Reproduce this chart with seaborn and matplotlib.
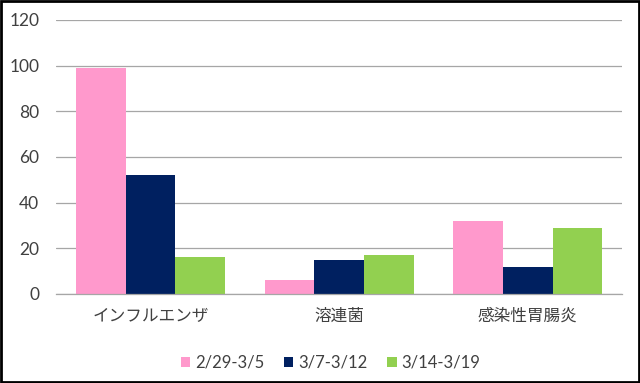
import matplotlib.pyplot as plt
import seaborn as sns
import pandas as pd
from matplotlib.patches import Rectangle

# data
categories = ["インフルエンザ", "溶連菌", "感染性胃腸炎"]
periods = ["2/29-3/5", "3/7-3/12", "3/14-3/19"]
week1 = [99, 6, 32]
week2 = [52, 15, 12]
week3 = [16, 17, 29]
colors = ["#FF99CC", "#002060", "#92D050"]
yticks = [0, 20, 40, 60, 80, 100, 120]

rows = []
for per, vals in zip(periods, [week1, week2, week3]):
    for cat, v in zip(categories, vals):
        rows.append({"category": cat, "period": per, "value": v})
df = pd.DataFrame(rows)

sns.set_theme(style="white")
plt.rcParams["font.family"] = ["Lato", "Noto Sans CJK JP", "DejaVu Sans"]

fig = plt.figure(figsize=(6.4, 3.83), dpi=100)
ax = fig.add_axes([0.0875, 0.2324, 0.8845, 0.7154])

sns.barplot(data=df, x="category", y="value", hue="period", hue_order=periods,
            palette=colors, width=0.79, saturation=1, linewidth=0, ax=ax, legend=True)

ax.set_ylim(0, 120)
ax.set_yticks(yticks)
ax.set_xlim(-0.5, 2.5)
ax.grid(axis="y", color="#A6A6A6", linewidth=0.9)
ax.set_axisbelow(True)
for s in ["top", "right", "left"]:
    ax.spines[s].set_visible(False)
ax.spines["bottom"].set_color("#A6A6A6")
ax.spines["bottom"].set_linewidth(0.9)
ax.tick_params(axis="both", length=0, colors="#404040")
ax.tick_params(axis="y", labelsize=12.5, pad=12)
ax.tick_params(axis="x", labelsize=12, pad=10)
ax.set_xlabel("")
ax.set_ylabel("")

leg = ax.legend(loc="center", bbox_to_anchor=(0.485, -0.25), ncol=3, frameon=False,
                fontsize=12, handlelength=0.55, handleheight=0.55, handletextpad=0.3,
                columnspacing=1.2)
for t in leg.get_texts():
    t.set_color("#404040")

fig.patches.append(Rectangle((0.002, 0.003), 0.996, 0.994, transform=fig.transFigure,
                             fill=False, edgecolor="black", linewidth=2))

fig.savefig("out.png", dpi=100)
